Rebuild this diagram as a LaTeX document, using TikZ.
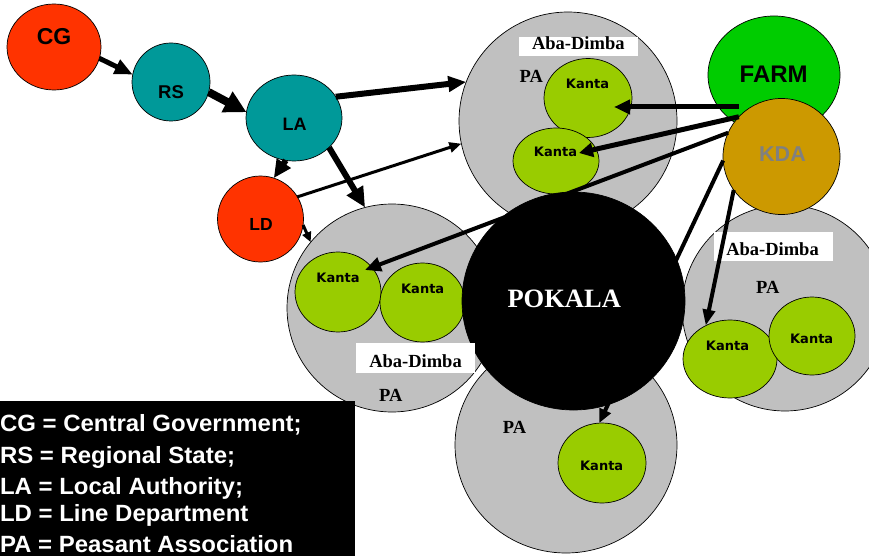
\documentclass[tikz,border=0pt]{standalone}
\usepackage{fontspec}
\usetikzlibrary{shapes.geometric,arrows.meta}
\newfontfamily\arialf{Liberation Sans}
\newfontfamily\legf{Liberation Sans}[FakeStretch=1.02]
\newfontfamily\verdf{DejaVu Sans}
\newfontfamily\timesf{Liberation Serif}
\definecolor{pagray}{HTML}{C0C0C0}
\definecolor{kgreen}{HTML}{99CC00}
\definecolor{farmgreen}{HTML}{00CC00}
\definecolor{kdaorange}{HTML}{CC9900}
\definecolor{kdatext}{HTML}{808080}
\definecolor{govred}{HTML}{FF3300}
\definecolor{govteal}{HTML}{009999}
\begin{document}
\begin{tikzpicture}[x=1pt,y=-1pt,
  blob/.style={ellipse, draw=black, line width=0.7pt, inner sep=0pt, outer sep=0pt},
  pa/.style={blob, fill=pagray},
  kanta/.style={blob, fill=kgreen},
  sz/.style 2 args={minimum width=#1pt, minimum height=#2pt},
  whitebox/.style={fill=white, inner sep=0pt, outer sep=0pt},
  lab/.style={anchor=base, inner sep=0pt, outer sep=0pt},
  arialtxt/.style={lab, font=\arialf\bfseries\fontsize{#1}{#1}\selectfont},
  ktxt/.style={lab, font=\verdf\bfseries\fontsize{13}{13}\selectfont},
  ttxt/.style={lab, font=\timesf\bfseries\fontsize{#1}{#1}\selectfont},
  legtxt/.style={anchor=base west, inner sep=0pt, outer sep=0pt, text=white,
    font=\legf\bfseries\fontsize{23.5}{23.5}\selectfont},
  arr/.style n args={3}{line width=#1pt, -{Triangle[length=#2pt,width=#3pt]}}
]
\useasboundingbox (0,0) rectangle (869,556);

% PA circles (gray)
\node[pa, sz={218}{218}] (topPA) at (568,121) {};
\node[pa, sz={210}{208}] (leftPA) at (392,308) {};
\node[pa, sz={222}{216}] (bottomPA) at (566,445) {};
\node[pa, sz={206}{206}] (rightPA) at (785,308) {};

% Kanta circles
\node[kanta, sz={88}{79}] (K1) at (588,98) {};
\node[kanta, sz={86}{66}] (K2) at (556,161) {};
\node[kanta, sz={86}{80}] (KL1) at (338,292) {};
\node[kanta, sz={85}{79}] (KL2) at (422.5,302.5) {};
\node[kanta, sz={88}{80}] (KB) at (602,463) {};
\node[kanta, sz={94}{78}] (KR1) at (730,359) {};
\node[kanta, sz={86}{78}] (KR2) at (812,336) {};

% POKALA
\node[blob, fill=black, sz={223}{218}] (POK) at (573.5,301) {};

% FARM and KDA
\node[blob, fill=farmgreen, sz={132}{118}] (FARM) at (774,75) {};
\node[blob, fill=kdaorange, sz={117}{116}] (KDA) at (781.5,156.5) {};

% Government chain
\node[blob, fill=govred, sz={94}{86}] (CG) at (54,47) {};
\node[blob, fill=govteal, sz={78}{78}] (RS) at (171,82) {};
\node[blob, fill=govteal, sz={96}{86}] (LA) at (294,118) {};
\node[blob, fill=govred, sz={86}{86}] (LD) at (260.5,219) {};

% Labels in circles
\node[arialtxt=23] (tCG) at (54,45) {CG};
\node[arialtxt=18.5] (tRS) at (171,98.3) {RS};
\node[arialtxt=18] (tLA) at (294.7,130.7) {LA};
\node[arialtxt=17.5] (tLD) at (261,230.7) {LD};
\node[arialtxt=24] (tFARM) at (773.7,82.3) {FARM};
\node[arialtxt=21.5, text=kdatext] (tKDA) at (782.5,161.7) {KDA};
\node[ktxt] (tK1) at (587.5,88.3) {Kanta};
\node[ktxt] (tK2) at (555.5,156.7) {Kanta};
\node[ktxt] (tKL1) at (338,282) {Kanta};
\node[ktxt] (tKL2) at (422.7,293) {Kanta};
\node[ktxt] (tKB) at (601.7,470.5) {Kanta};
\node[ktxt] (tKR1) at (727.5,350.5) {Kanta};
\node[ktxt] (tKR2) at (811.7,343) {Kanta};
\node[ttxt=26.5, text=white] (tPOK) at (564.2,307.7) {POKALA};

% Aba-Dimba boxes and PA labels
\node[whitebox, minimum width=119pt, minimum height=19pt] (boxTop) at (578.5,46.5) {};
\node[whitebox, minimum width=119pt, minimum height=30pt] (boxLeft) at (415.5,358) {};
\node[whitebox, minimum width=119pt, minimum height=29pt] (boxRight) at (773.5,246.5) {};
\node[ttxt=18.5] (tAbaTop) at (578.3,50) {Aba-Dimba};
\node[ttxt=18.5] (tAbaLeft) at (415.5,367) {Aba-Dimba};
\node[ttxt=18.5] (tAbaRight) at (772.5,255) {Aba-Dimba};
\node[ttxt=18.5] (tPAtop) at (531.3,82.7) {PA};
\node[ttxt=18.5] (tPAleft) at (390.8,401.7) {PA};
\node[ttxt=18.5] (tPAbottom) at (514.5,433) {PA};
\node[ttxt=18.5] (tPAright) at (767.7,293.3) {PA};

% free ends inside circles
\coordinate (farmout) at (739,107);
\coordinate (k1in) at (614,107);
\coordinate (k2in) at (579,153);
\coordinate (kl1in) at (365,270);

% Arrows
\draw[arr={5}{18}{15}] (CG.-14.6) -- (RS.169.8);
\draw[arr={8}{22}{22}] (RS.-15.1) -- (LA.173.8);
\draw[arr={6}{18}{15}] (LA.27.7) -- (topPA.159.6);
\draw[arr={6}{18}{16}] (LA.-101.7) -- (LD.72);
\draw[arr={6}{20}{18}] (LA.-40.3) -- (leftPA.105.5);
\draw[arr={3}{12}{10}] (LD.31) -- (topPA.192.5);
\draw[arr={3}{10}{9}] (LD.-8.1) -- (leftPA.141.3);
\draw[arr={5}{16}{14}] (farmout) -- (k1in);
\draw[arr={5}{14}{14}] (KDA.137.8) -- (k2in);
\draw[arr={4}{16}{14}] (KDA.156.5) -- (kl1in);
\draw[arr={4}{14}{12}] (KDA.184) -- (KB.94.4);
\draw[arr={4}{16}{12}] (KDA.-145.2) -- (KR1.126.6);

% Legend
\node[fill=black, inner sep=0pt, outer sep=0pt, anchor=north west,
  minimum width=360pt, minimum height=160pt] (legend) at (-5,401) {};
\node[legtxt] (lg1) at (0,431.7) {CG = Central Government;};
\node[legtxt] (lg2) at (0,463.3) {RS = Regional State;};
\node[legtxt] (lg3) at (0,494.3) {LA = Local Authority;};
\node[legtxt] (lg4) at (0,521) {LD = Line Department};
\node[legtxt] (lg5) at (0,552.7) {PA = Peasant Association};
\end{tikzpicture}
\end{document}
